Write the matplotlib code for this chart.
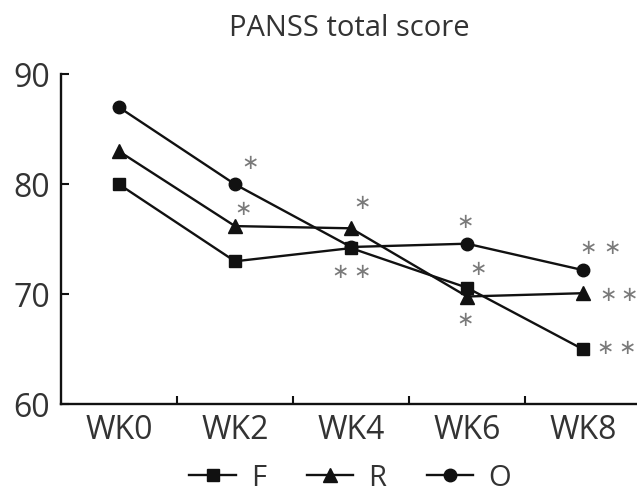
import matplotlib
matplotlib.use('Agg')
import matplotlib.pyplot as plt
from matplotlib.lines import Line2D

# ── DATA ──────────────────────────────────────────────
weeks = ["WK0", "WK2", "WK4", "WK6", "WK8"]
score_f = [80.0, 73.0, 74.2, 70.6, 65.0]
score_r = [83.0, 76.2, 76.0, 69.8, 70.1]
score_o = [87.0, 80.0, 74.3, 74.6, 72.2]

# significance asterisks (one entry per star)
sig_x = [1.13, 1.07, 2.10, 1.905, 2.095, 2.98, 3.10, 2.98,
         4.04, 4.25, 4.22, 4.40, 4.19, 4.38]
sig_y = [81.9, 77.75, 78.3, 72.0, 72.0, 76.55, 72.3, 67.65,
         74.2, 74.2, 69.9, 69.9, 65.1, 65.1]

# ── STYLE ─────────────────────────────────────────────
plt.rcParams['font.family'] = ['Open Sans', 'DejaVu Sans']
TEXT_COL = "#333333"
LINE_COL = "#111111"
STAR_COL = "#7a7a7a"

W, H = 637, 493
fig = plt.figure(figsize=(W / 100, H / 100), dpi=100, facecolor='white')
ax = fig.add_axes([61 / W, (H - 404.3) / H, 580 / W, 330 / H])

xs = list(range(len(weeks)))
ax.plot(xs, score_f, color=LINE_COL, lw=1.7, marker='s', ms=8.5, zorder=3)
ax.plot(xs, score_r, color=LINE_COL, lw=1.7, marker='^', ms=9.5, zorder=3)
ax.plot(xs, score_o, color=LINE_COL, lw=1.7, marker='o', ms=9, zorder=3)

for x, y in zip(sig_x, sig_y):
    ax.text(x, y, "\u2217", color=STAR_COL, fontsize=15, ha='center',
            va='center', family='DejaVu Sans')

ax.set_xlim(-0.5, 4.5)
ax.set_ylim(60, 90)
ax.set_xticks(xs)
ax.set_xticklabels(weeks)
ax.set_xticks([0.5, 1.5, 2.5, 3.5], minor=True)
ax.set_yticks([60, 70, 80, 90])

ax.tick_params(axis='x', which='major', length=0, pad=7,
               labelsize=23, labelcolor=TEXT_COL)
ax.tick_params(axis='x', which='minor', direction='in', length=6,
               width=1.5, color=LINE_COL)
ax.tick_params(axis='y', direction='in', length=6, width=1.5,
               color=LINE_COL, pad=8, labelsize=23, labelcolor=TEXT_COL)

for s in ['top', 'right']:
    ax.spines[s].set_visible(False)
for s in ['left', 'bottom']:
    ax.spines[s].set_linewidth(1.7)
    ax.spines[s].set_color(LINE_COL)

fig.text(349 / W, 1 - 28 / H, "PANSS total score", color=TEXT_COL,
         fontsize=21, ha='center', va='center')

handles = [
    Line2D([], [], color=LINE_COL, lw=1.7, marker='s', ms=8.5),
    Line2D([], [], color=LINE_COL, lw=1.7, marker='^', ms=9.5),
    Line2D([], [], color=LINE_COL, lw=1.7, marker='o', ms=9),
]
leg = fig.legend(handles, ["F", "R", "O"], ncol=3, loc='center',
                 bbox_to_anchor=(350 / W, 1 - 478 / H), frameon=False,
                 fontsize=21, handlelength=1.6, handletextpad=0.5,
                 columnspacing=1.4, labelcolor=TEXT_COL,
                 borderpad=0.1)

plt.savefig("out.png", dpi=100, facecolor='white')
plt.close()
